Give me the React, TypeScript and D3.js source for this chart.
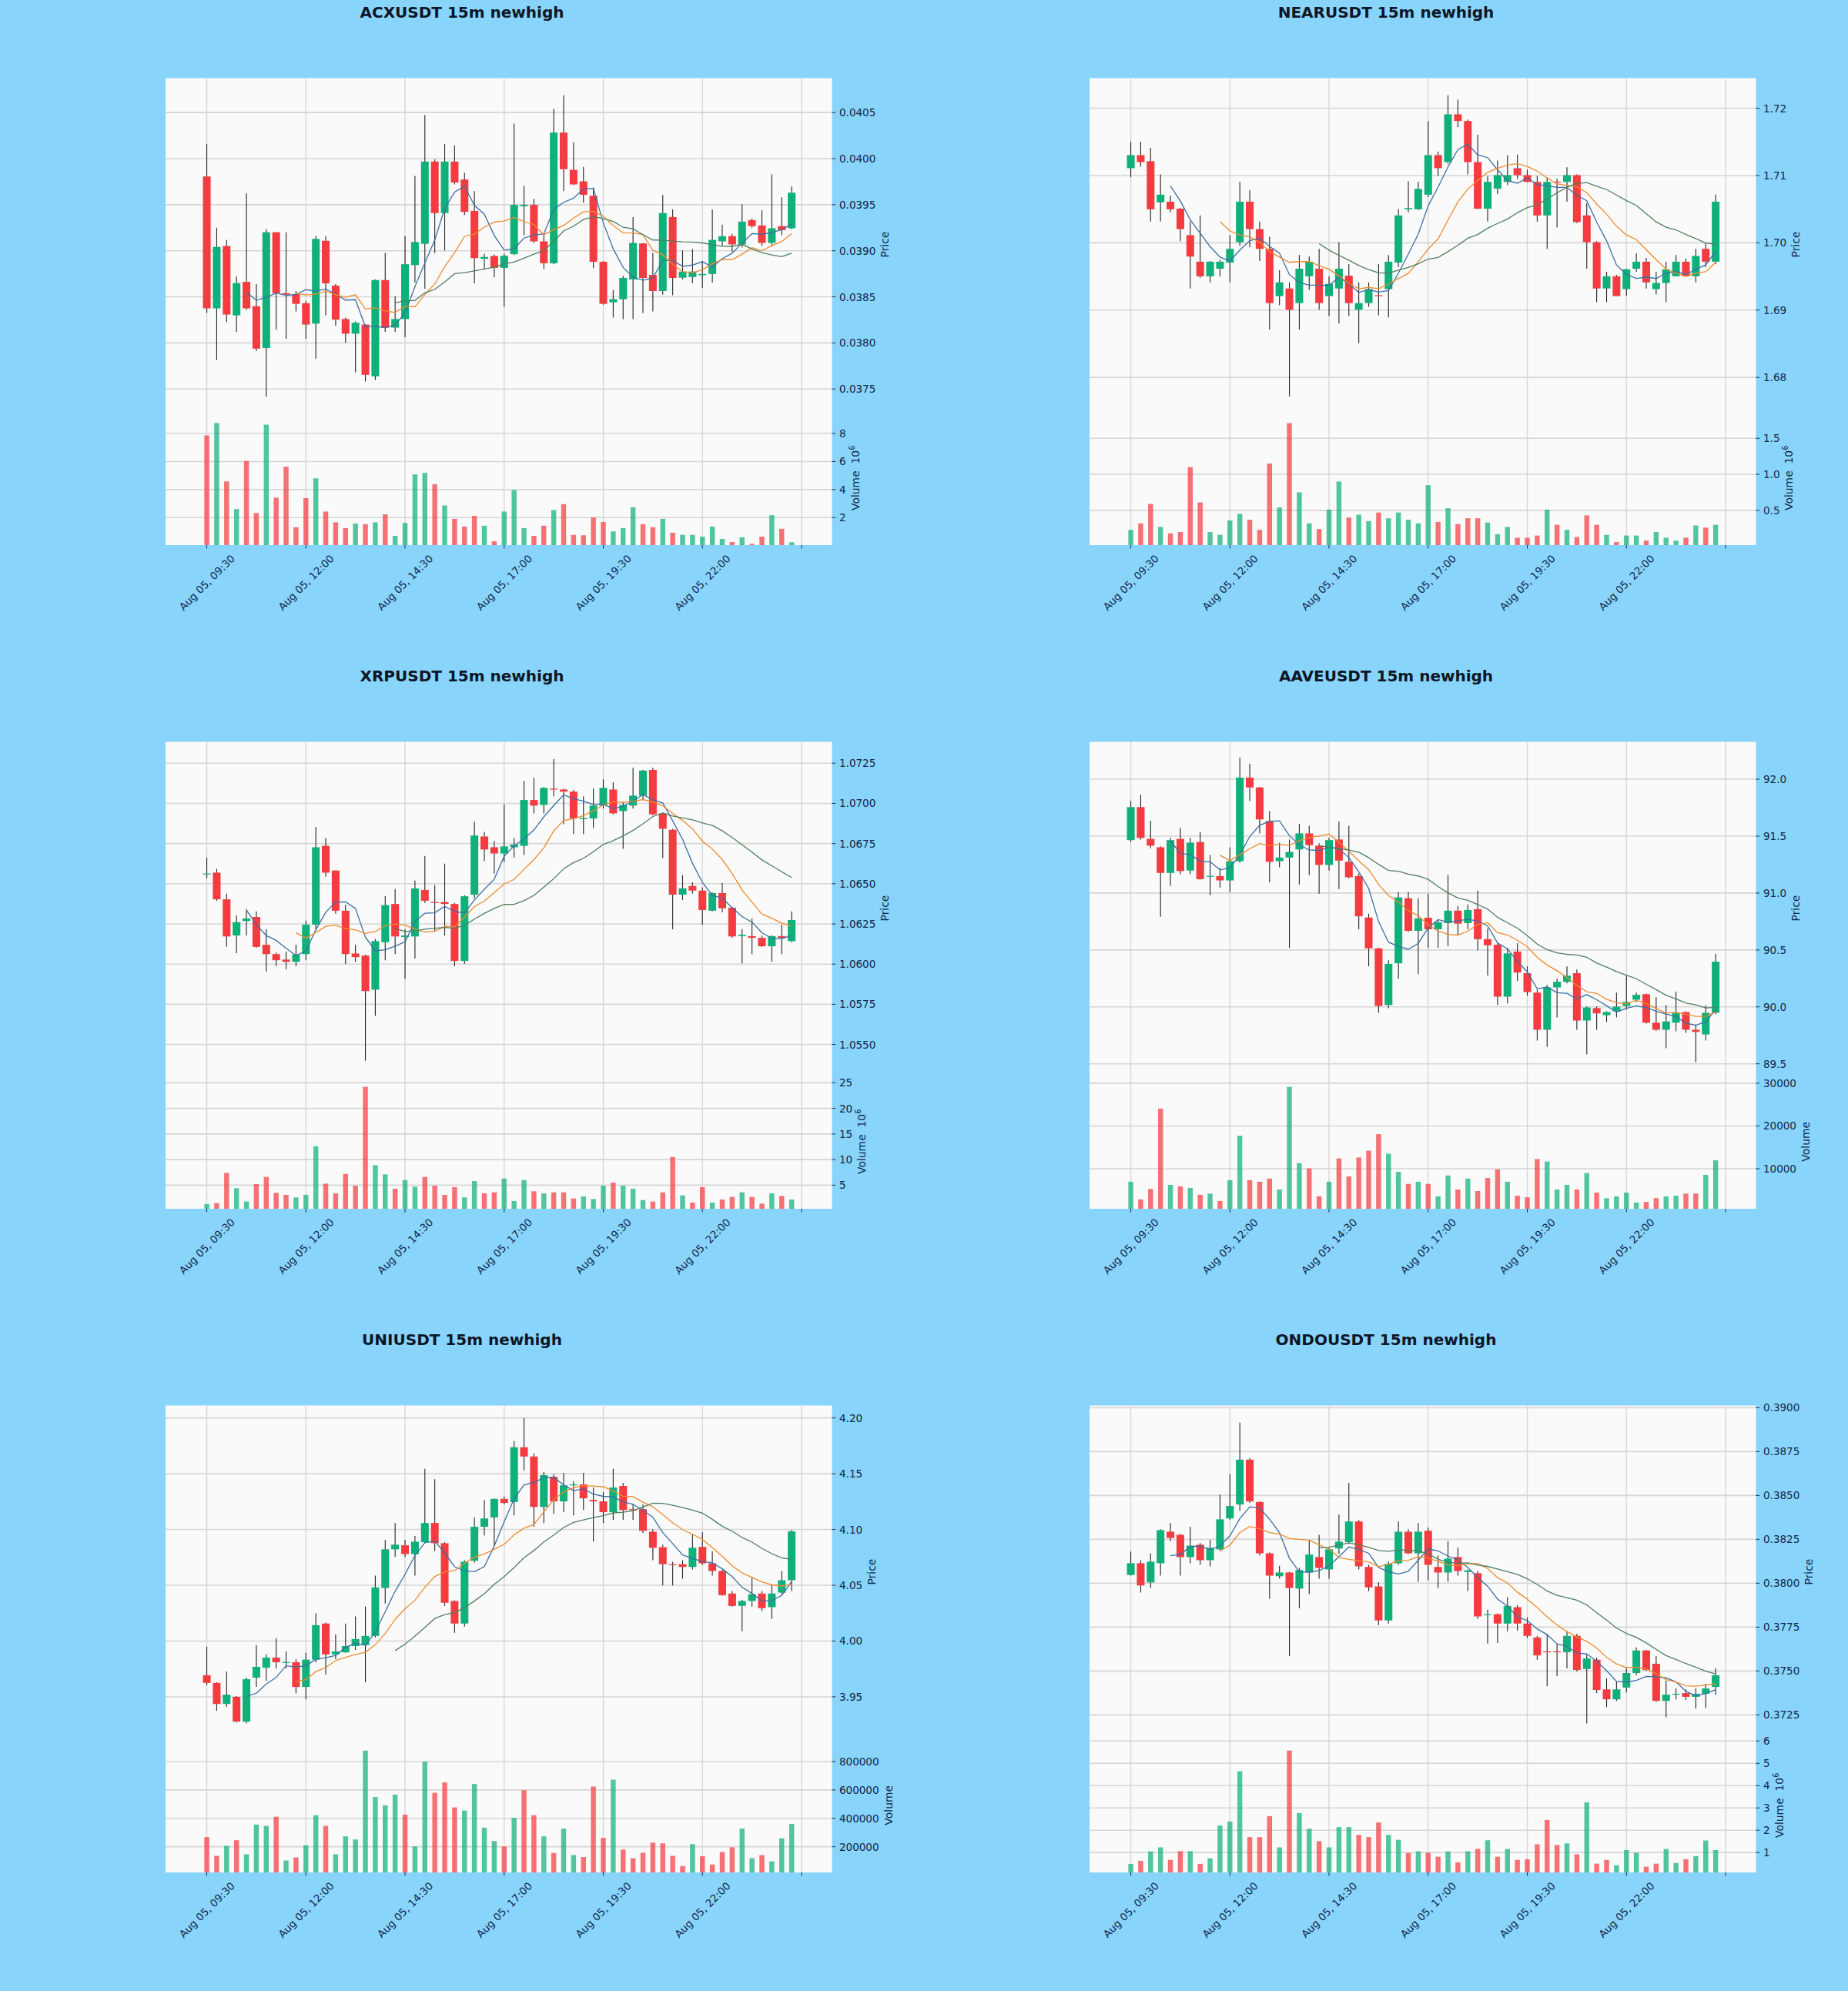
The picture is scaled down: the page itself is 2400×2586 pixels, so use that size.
import React from 'react';
import * as d3 from 'd3';

// ---------- shared axis data ----------
const X_TICK_INDEX = [0, 10, 20, 30, 40, 50, 60];
const X_TICK_LABELS = ['Aug 05, 09:30', 'Aug 05, 12:00', 'Aug 05, 14:30', 'Aug 05, 17:00', 'Aug 05, 19:30', 'Aug 05, 22:00', ''];
const MA_PERIODS = [5, 10, 20];

// ---------- ACXUSDT ----------
const ACX_OPEN = [0.039806,0.038375,0.039052,0.038299,0.038662,0.038398,0.037945,0.039201,0.038540,0.038530,
0.038431,0.038209,0.039108,0.038622,0.038259,0.038100,0.038199,0.037638,0.038682,0.038166,
0.038259,0.038844,0.039075,0.039968,0.039409,0.039968,0.039773,0.039432,0.038913,0.038943,
0.038814,0.038963,0.039482,0.039498,0.039102,0.038864,0.040282,0.039878,0.039753,0.039597,
0.038880,0.038441,0.038474,0.038689,0.039079,0.038738,0.038563,0.039366,0.038708,0.038715,
0.038735,0.038748,0.039102,0.039158,0.039069,0.039333,0.039274,0.039085,0.039267,0.039244];
const ACX_HIGH = [0.040159,0.039250,0.039118,0.038722,0.039621,0.038639,0.039234,0.039201,0.039201,0.038563,
0.038457,0.039161,0.039158,0.038639,0.038275,0.038232,0.038199,0.038689,0.038976,0.038507,
0.039158,0.039812,0.040473,0.039991,0.040159,0.040143,0.039845,0.039647,0.038969,0.038960,
0.038969,0.040381,0.039706,0.039564,0.039168,0.040539,0.040688,0.040176,0.039911,0.039687,
0.038887,0.038573,0.038728,0.039366,0.039085,0.038976,0.039607,0.039449,0.039003,0.039019,
0.038889,0.039449,0.039283,0.039184,0.039505,0.039350,0.039439,0.039829,0.039581,0.039697];
const ACX_LOW = [0.038325,0.037813,0.038226,0.038120,0.038358,0.037912,0.037416,0.038143,0.038044,0.038342,
0.038044,0.037829,0.038299,0.038186,0.038001,0.037681,0.037581,0.037598,0.038120,0.038120,
0.038061,0.038655,0.038589,0.038973,0.039003,0.039720,0.039389,0.038646,0.038794,0.038712,
0.038391,0.038953,0.039168,0.039085,0.038804,0.038854,0.039647,0.039713,0.039521,0.038811,
0.038414,0.038275,0.038259,0.038259,0.038325,0.038342,0.038523,0.038517,0.038689,0.038649,
0.038596,0.038655,0.039052,0.038986,0.039036,0.039250,0.039052,0.039052,0.039168,0.039234];
const ACX_CLOSE = [0.038375,0.039042,0.038308,0.038649,0.038375,0.037938,0.039201,0.038540,0.038523,0.038424,
0.038199,0.039128,0.038646,0.038252,0.038100,0.038219,0.037654,0.038682,0.038166,0.038259,
0.038854,0.039095,0.039968,0.039409,0.039968,0.039740,0.039422,0.038920,0.038933,0.038814,
0.038946,0.039498,0.039498,0.039102,0.038864,0.040282,0.039885,0.039720,0.039607,0.038880,
0.038424,0.038474,0.038705,0.039085,0.038705,0.038563,0.039409,0.038705,0.038774,0.038774,
0.038748,0.039118,0.039158,0.039069,0.039316,0.039267,0.039085,0.039244,0.039224,0.039630];
const ACX_VOLUME = [7.86,8.74,4.58,2.61,6.04,2.32,8.63,3.42,5.63,1.31,
3.39,4.80,2.43,1.66,1.25,1.58,1.53,1.66,2.23,0.70,
1.62,5.08,5.19,4.38,2.87,1.91,1.36,2.12,1.42,0.31,
2.43,3.96,1.25,0.70,1.42,2.54,2.96,0.77,0.74,2.01,
1.69,1.01,1.25,2.74,1.53,1.31,1.91,0.92,0.77,0.77,
0.64,1.36,0.48,0.26,0.59,0.13,0.64,2.17,1.20,0.24];
const ACX_PRICE_TICKS = [0.0375, 0.0380, 0.0385, 0.0390, 0.0395, 0.0400, 0.0405];
const ACX_VOL_TICKS = [2, 4, 6, 8];

// ---------- NEARUSDT ----------
const NEAR_OPEN = [1.71109,1.71303,1.71213,1.70602,1.70611,1.70507,1.70113,1.69719,1.69502,1.69615,
1.69706,1.70009,1.70611,1.70204,1.69910,1.69208,1.69321,1.69104,1.69502,1.69615,
1.69208,1.69321,1.69511,1.69005,1.69104,1.69222,1.69312,1.69706,1.70498,1.70498,
1.70715,1.71303,1.71199,1.71910,1.71810,1.71199,1.70507,1.70805,1.70905,1.71109,
1.71005,1.70905,1.70407,1.70905,1.70905,1.71005,1.70407,1.70009,1.69321,1.69502,
1.69312,1.69615,1.69719,1.69312,1.69403,1.69502,1.69719,1.69502,1.69910,1.69719];
const NEAR_HIGH = [1.71502,1.71502,1.71412,1.71018,1.70701,1.70520,1.70317,1.70407,1.69729,1.69751,
1.70113,1.70905,1.70778,1.70317,1.70090,1.69593,1.69412,1.69819,1.69796,1.69910,
1.69502,1.70009,1.69683,1.69412,1.69412,1.69683,1.69819,1.70498,1.70914,1.70905,
1.71810,1.71357,1.72195,1.72127,1.71833,1.71606,1.70995,1.71222,1.71303,1.71312,
1.71086,1.70995,1.70973,1.70950,1.71122,1.71018,1.70588,1.70023,1.69570,1.69525,
1.69615,1.69842,1.69774,1.69570,1.69719,1.69819,1.69765,1.69910,1.70000,1.70715];
const NEAR_LOW = [1.70973,1.71131,1.70317,1.70317,1.70452,1.70023,1.69321,1.69480,1.69412,1.69502,
1.69412,1.69955,1.69932,1.69729,1.68710,1.69072,1.67715,1.68710,1.69299,1.69005,
1.68914,1.68801,1.68914,1.68507,1.69050,1.68923,1.68891,1.69638,1.70452,1.70489,
1.70679,1.70995,1.71176,1.71719,1.71018,1.70498,1.70317,1.70724,1.70860,1.70950,
1.70896,1.70317,1.69910,1.70226,1.70611,1.70294,1.69615,1.69118,1.69118,1.69208,
1.69208,1.69570,1.69321,1.69231,1.69118,1.69502,1.69502,1.69412,1.69638,1.69683];
const NEAR_CLOSE = [1.71303,1.71199,1.70498,1.70715,1.70498,1.70204,1.69796,1.69502,1.69719,1.69719,
1.69910,1.70611,1.70204,1.69910,1.69104,1.69412,1.69005,1.69615,1.69719,1.69104,
1.69389,1.69615,1.69104,1.69104,1.69312,1.69208,1.69719,1.70407,1.70516,1.70801,
1.71303,1.71109,1.71910,1.71810,1.71199,1.70507,1.70905,1.71005,1.71005,1.71005,
1.70905,1.70407,1.70905,1.70896,1.71005,1.70308,1.70009,1.69321,1.69502,1.69208,
1.69606,1.69719,1.69412,1.69403,1.69606,1.69719,1.69502,1.69805,1.69719,1.70611];
const NEAR_VOLUME = [0.23,0.32,0.59,0.27,0.18,0.20,1.10,0.61,0.20,0.16,
0.36,0.45,0.37,0.23,1.15,0.54,1.71,0.75,0.32,0.24,
0.51,0.90,0.40,0.44,0.35,0.47,0.39,0.47,0.37,0.32,
0.85,0.34,0.53,0.31,0.39,0.39,0.33,0.17,0.27,0.12,
0.12,0.15,0.51,0.30,0.23,0.13,0.43,0.30,0.16,0.06,
0.15,0.15,0.08,0.20,0.12,0.08,0.12,0.29,0.26,0.30];
const NEAR_PRICE_TICKS = [1.68, 1.69, 1.70, 1.71, 1.72];
const NEAR_VOL_TICKS = [0.5, 1.0, 1.5];

// ---------- XRPUSDT ----------
const XRP_OPEN = [1.06561,1.06569,1.06403,1.06178,1.06268,1.06293,1.06120,1.06062,1.06028,1.06014,
1.06062,1.06245,1.06736,1.06582,1.06332,1.06066,1.06053,1.05841,1.06136,1.06374,
1.06168,1.06172,1.06461,1.06386,1.06386,1.06374,1.06020,1.06432,1.06794,1.06727,
1.06688,1.06727,1.06736,1.07021,1.06990,1.07092,1.07086,1.07073,1.06902,1.06906,
1.06986,1.07086,1.06952,1.06986,1.07048,1.07208,1.06938,1.06836,1.06432,1.06486,
1.06457,1.06332,1.06442,1.06351,1.06174,1.06174,1.06163,1.06111,1.06174,1.06143];
const XRP_HIGH = [1.06663,1.06592,1.06438,1.06303,1.06342,1.06328,1.06217,1.06072,1.06078,1.06120,
1.06270,1.06852,1.06784,1.06582,1.06370,1.06120,1.06059,1.06155,1.06422,1.06467,
1.06217,1.06519,1.06673,1.06492,1.06625,1.06380,1.06428,1.06886,1.06823,1.06765,
1.06994,1.06784,1.07140,1.07160,1.07102,1.07275,1.07092,1.07083,1.07044,1.07092,
1.07150,1.07131,1.07009,1.07221,1.07208,1.07221,1.06944,1.06842,1.06553,1.06509,
1.06476,1.06447,1.06505,1.06355,1.06217,1.06284,1.06178,1.06178,1.06245,1.06328];
const XRP_LOW = [1.06534,1.06394,1.06107,1.06068,1.06178,1.06101,1.05953,1.05986,1.05966,1.05986,
1.06024,1.06217,1.06544,1.06313,1.06001,1.06014,1.05399,1.05678,1.06024,1.06062,
1.05909,1.06034,1.06380,1.06207,1.06178,1.05986,1.06001,1.06409,1.06640,1.06563,
1.06636,1.06663,1.06678,1.06938,1.06938,1.07044,1.06871,1.06809,1.06809,1.06848,
1.06967,1.06932,1.06717,1.06967,1.07021,1.06925,1.06659,1.06217,1.06399,1.06438,
1.06245,1.06328,1.06322,1.06163,1.06005,1.06062,1.06107,1.06014,1.06062,1.06136];
const XRP_CLOSE = [1.06561,1.06403,1.06172,1.06261,1.06284,1.06107,1.06062,1.06024,1.06014,1.06059,
1.06245,1.06727,1.06569,1.06332,1.06062,1.06043,1.05832,1.06143,1.06367,1.06172,
1.06178,1.06471,1.06394,1.06380,1.06374,1.06020,1.06422,1.06800,1.06713,1.06688,
1.06732,1.06744,1.07021,1.06986,1.07096,1.07086,1.07073,1.06906,1.06909,1.06986,
1.07096,1.06938,1.06990,1.07048,1.07204,1.06932,1.06842,1.06432,1.06471,1.06457,
1.06336,1.06442,1.06347,1.06172,1.06182,1.06163,1.06111,1.06174,1.06163,1.06274];
const XRP_VOLUME = [1.3,1.5,7.4,4.4,1.8,5.2,6.6,3.5,3.1,2.6,
3.1,12.6,5.3,3.4,7.2,4.9,24.2,8.9,7.1,4.3,
6.0,4.7,6.6,4.9,3.1,4.6,2.6,5.8,3.4,3.6,
6.3,1.9,6.0,3.8,3.4,3.6,3.6,2.4,2.8,2.3,
4.9,5.5,4.9,4.3,2.1,1.8,3.6,10.5,3.0,1.6,
4.6,1.6,2.2,2.7,3.6,2.7,1.4,3.4,2.9,2.2];
const XRP_PRICE_TICKS = [1.0550, 1.0575, 1.0600, 1.0625, 1.0650, 1.0675, 1.0700, 1.0725];
const XRP_VOL_TICKS = [5, 10, 15, 20, 25];

// ---------- AAVEUSDT ----------
const AAVE_OPEN = [91.465,91.755,91.476,91.402,91.177,91.476,91.198,91.448,91.144,91.149,
91.111,91.280,92.014,91.927,91.633,91.280,91.312,91.383,91.524,91.416,
91.247,91.470,91.274,91.149,90.785,90.514,90.016,90.383,90.954,90.668,
90.783,90.682,90.736,90.845,90.736,90.859,90.595,90.546,90.090,90.486,
90.296,90.125,89.799,90.171,90.220,90.296,89.880,89.989,89.927,89.962,
90.008,90.063,90.111,89.861,89.799,89.861,89.954,89.799,89.758,89.948];
const AAVE_HIGH = [91.810,91.864,91.633,91.410,91.484,91.573,91.484,91.538,91.334,91.220,
91.402,92.190,92.136,91.932,91.720,91.443,91.470,91.606,91.592,91.438,
91.484,91.628,91.592,91.171,90.818,90.519,90.410,91.008,91.008,90.954,
90.995,90.764,91.158,90.886,90.899,91.022,90.688,90.560,90.519,90.560,
90.356,90.152,90.193,90.247,90.356,90.329,90.003,90.003,89.962,90.125,
90.274,90.125,90.117,90.084,90.016,90.133,89.962,89.840,90.016,90.465];
const AAVE_LOW = [91.448,91.470,91.394,90.791,91.063,91.166,91.166,91.117,90.981,91.049,
91.008,91.266,91.810,91.524,91.095,91.226,90.519,91.076,91.158,90.995,
91.198,91.035,91.130,90.682,90.356,89.948,89.989,90.247,90.660,90.288,
90.519,90.519,90.533,90.628,90.682,90.497,90.274,90.016,90.030,90.226,
90.098,89.704,89.649,89.908,90.207,89.799,89.582,89.799,89.867,89.908,
89.976,90.043,89.853,89.791,89.636,89.785,89.772,89.514,89.704,89.935];
const AAVE_CLOSE = [91.755,91.484,91.416,91.177,91.465,91.193,91.443,91.122,91.149,91.111,
91.280,92.014,91.927,91.647,91.274,91.312,91.361,91.524,91.421,91.247,
91.465,91.285,91.139,90.796,90.514,90.008,90.378,90.962,90.668,90.777,
90.682,90.742,90.845,90.731,90.851,90.595,90.541,90.090,90.470,90.302,
90.130,89.799,90.171,90.220,90.274,89.880,89.995,89.943,89.954,90.003,
90.043,90.106,89.861,89.799,89.872,89.948,89.799,89.780,89.948,90.397];
const AAVE_VOLUME = [6945,2800,5273,24036,6218,5855,5491,3891,4182,2436,
7309,17709,7309,6945,7673,5127,29127,11309,10073,3527,
6945,12400,8182,12618,14218,18073,13491,9273,6436,6945,
6436,3527,8400,5127,7673,4764,7818,9855,6945,3673,
3309,12255,11673,5127,6218,5127,8982,4400,3091,3527,
4400,2073,2218,3091,3527,3673,4182,4182,8545,11964];
const AAVE_PRICE_TICKS = [89.5, 90.0, 90.5, 91.0, 91.5, 92.0];
const AAVE_VOL_TICKS = [10000, 20000, 30000];

// ---------- UNIUSDT ----------
const UNI_OPEN = [3.9694,3.9625,3.9436,3.9500,3.9278,3.9672,3.9761,3.9852,3.9805,3.9810,
3.9589,3.9833,4.0157,3.9880,3.9899,3.9955,3.9963,4.0046,4.0476,4.0822,
4.0858,4.0780,4.0886,4.1058,4.0877,4.0359,4.0157,4.0720,4.1024,4.1108,
4.1274,4.1246,4.1737,4.1654,4.1202,4.1473,4.1252,4.1396,4.1404,4.1265,
4.1252,4.1155,4.1390,4.1182,4.1182,4.0980,4.0841,4.0689,4.0689,4.0664,
4.0844,4.0697,4.0628,4.0426,4.0315,4.0359,4.0426,4.0304,4.0434,4.0545];
const UNI_HIGH = [3.9949,3.9630,3.9727,3.9506,3.9672,3.9963,3.9880,4.0027,3.9907,3.9838,
3.9894,4.0248,4.0165,4.0060,4.0157,4.0221,4.0309,4.0586,4.0905,4.1058,
4.0905,4.0941,4.1543,4.1451,4.0886,4.0365,4.0725,4.1108,4.1265,4.1279,
4.1293,4.1792,4.2000,4.1681,4.1515,4.1496,4.1507,4.1432,4.1507,4.1376,
4.1335,4.1543,4.1418,4.1224,4.1224,4.1002,4.0864,4.0711,4.0725,4.0961,
4.0974,4.0803,4.0642,4.0448,4.0370,4.0573,4.0448,4.0503,4.0628,4.0997];
const UNI_LOW = [3.9603,3.9375,3.9409,3.9270,3.9262,3.9589,3.9644,3.9755,3.9755,3.9533,
3.9478,3.9810,3.9700,3.9838,3.9894,3.9921,3.9630,4.0032,4.0337,4.0753,
4.0753,4.0586,4.0877,4.0808,4.0315,4.0074,4.0129,4.0703,4.0947,4.0850,
4.1224,4.1127,4.1529,4.1024,4.1058,4.1141,4.1155,4.1127,4.1174,4.0891,
4.1058,4.1085,4.1085,4.1085,4.0969,4.0725,4.0498,4.0498,4.0559,4.0642,
4.0683,4.0586,4.0406,4.0309,4.0088,4.0309,4.0268,4.0198,4.0420,4.0448];
const UNI_CLOSE = [3.9625,3.9436,3.9519,3.9278,3.9658,3.9769,3.9852,3.9810,3.9810,3.9589,
3.9833,4.0143,3.9880,3.9907,3.9955,4.0018,4.0046,4.0481,4.0822,4.0864,
4.0780,4.0891,4.1058,4.0877,4.0343,4.0157,4.0711,4.1024,4.1099,4.1274,
4.1238,4.1737,4.1654,4.1202,4.1487,4.1252,4.1396,4.1404,4.1279,4.1252,
4.1155,4.1376,4.1174,4.1174,4.0988,4.0836,4.0689,4.0681,4.0664,4.0836,
4.0697,4.0628,4.0412,4.0315,4.0359,4.0420,4.0295,4.0426,4.0545,4.0983];
const UNI_VOLUME = [268000,136000,207000,246000,147000,356000,347000,411000,103000,125000,
211000,422000,347000,147000,273000,251000,877000,550000,492000,567000,
426000,202000,800000,580000,653000,477000,455000,642000,334000,240000,
202000,404000,598000,422000,273000,156000,328000,141000,127000,624000,
262000,673000,180000,119000,158000,229000,224000,136000,64000,218000,
134000,75000,163000,196000,328000,119000,141000,97000,259000,360000];
const UNI_PRICE_TICKS = [3.95, 4.00, 4.05, 4.10, 4.15, 4.20];
const UNI_VOL_TICKS = [200000, 400000, 600000, 800000];

// ---------- ONDOUSDT ----------
const ONDO_OPEN = [0.380469,0.381138,0.380046,0.381138,0.382935,0.382759,0.381490,0.382195,0.381314,0.381931,
0.383693,0.384486,0.387040,0.384626,0.381702,0.380398,0.380610,0.379693,0.380610,0.381490,
0.380786,0.381984,0.382336,0.383517,0.380927,0.379817,0.377879,0.381138,0.382935,0.381702,
0.382988,0.380927,0.380610,0.381490,0.380645,0.380574,0.378178,0.378231,0.377703,0.378636,
0.377703,0.376910,0.376117,0.376117,0.376064,0.376998,0.375113,0.375641,0.373950,0.373386,
0.374056,0.374884,0.376170,0.375412,0.373298,0.373650,0.373739,0.373527,0.373703,0.374091];
const ONDO_HIGH = [0.381808,0.381314,0.381702,0.383076,0.383428,0.382812,0.383217,0.382283,0.382459,0.385049,
0.386212,0.389154,0.387128,0.384662,0.381755,0.380997,0.380645,0.380874,0.382459,0.382759,
0.382019,0.383904,0.385719,0.383605,0.381050,0.380046,0.381226,0.383517,0.383076,0.383428,
0.383164,0.381579,0.382407,0.382019,0.380786,0.380698,0.378495,0.378284,0.379200,0.378760,
0.378055,0.376998,0.377086,0.376522,0.377262,0.377121,0.375941,0.375765,0.374584,0.374408,
0.375148,0.376346,0.376205,0.375853,0.374443,0.374003,0.373950,0.374003,0.374267,0.375148];
const ONDO_LOW = [0.380433,0.379464,0.379729,0.380433,0.382407,0.380433,0.381138,0.381050,0.380962,0.381843,
0.383605,0.384133,0.384574,0.381579,0.379112,0.380257,0.375853,0.378583,0.379376,0.380257,
0.380257,0.381667,0.382230,0.380786,0.379552,0.377614,0.377703,0.381050,0.381667,0.380081,
0.380169,0.379729,0.380081,0.380433,0.379552,0.377967,0.376557,0.376593,0.377262,0.377297,
0.376875,0.375641,0.374126,0.374708,0.375148,0.374972,0.372012,0.373739,0.372946,0.373298,
0.373774,0.374760,0.375007,0.373245,0.372364,0.373386,0.373351,0.372858,0.372893,0.373650];
const ONDO_CLOSE = [0.381138,0.379870,0.381226,0.383023,0.382583,0.381490,0.382142,0.381314,0.382019,0.383640,
0.384397,0.387040,0.384662,0.381702,0.380433,0.380610,0.379729,0.380751,0.381631,0.380874,
0.381931,0.382371,0.383517,0.380962,0.379764,0.377879,0.381103,0.382935,0.381702,0.382935,
0.381050,0.380610,0.381402,0.380698,0.380733,0.378108,0.378231,0.377703,0.378707,0.377703,
0.376998,0.375888,0.376064,0.376064,0.376998,0.375060,0.375712,0.373915,0.373386,0.373950,
0.374884,0.376170,0.375060,0.373298,0.373650,0.373703,0.373527,0.373703,0.374003,0.374760];
const ONDO_VOLUME = [0.49,0.63,1.05,1.23,0.67,1.06,1.06,0.49,0.74,2.21,
2.39,4.64,1.69,1.69,2.63,1.23,5.57,2.77,2.07,1.51,
1.23,2.14,2.14,1.79,1.69,2.35,1.79,1.57,0.98,1.05,
0.99,0.81,1.05,0.56,1.05,1.16,1.55,0.81,1.16,0.67,
0.70,1.37,2.46,1.34,1.41,0.92,3.25,0.50,0.67,0.43,
1.11,0.99,0.36,0.50,1.16,0.53,0.70,0.84,1.54,1.11];
const ONDO_PRICE_TICKS = [0.3725, 0.3750, 0.3775, 0.3800, 0.3825, 0.3850, 0.3875, 0.3900];
const ONDO_VOL_TICKS = [1, 2, 3, 4, 5, 6];

// ---------- panel definitions ----------
type PanelCfg = {
  title: string; open: number[]; high: number[]; low: number[]; close: number[]; volume: number[];
  priceDomain: [number, number]; priceTicks: number[]; priceDec: number;
  volTicks: number[]; volDec: number; volExp: number | null;
};

const PANELS: PanelCfg[] = [
  { title: 'ACXUSDT 15m newhigh', open: ACX_OPEN, high: ACX_HIGH, low: ACX_LOW, close: ACX_CLOSE, volume: ACX_VOLUME,
    priceDomain: [0.037263, 0.040873], priceTicks: ACX_PRICE_TICKS, priceDec: 4, volTicks: ACX_VOL_TICKS, volDec: 0, volExp: 6 },
  { title: 'NEARUSDT 15m newhigh', open: NEAR_OPEN, high: NEAR_HIGH, low: NEAR_LOW, close: NEAR_CLOSE, volume: NEAR_VOLUME,
    priceDomain: [1.67503, 1.72447], priceTicks: NEAR_PRICE_TICKS, priceDec: 2, volTicks: NEAR_VOL_TICKS, volDec: 1, volExp: 6 },
  { title: 'XRPUSDT 15m newhigh', open: XRP_OPEN, high: XRP_HIGH, low: XRP_LOW, close: XRP_CLOSE, volume: XRP_VOLUME,
    priceDomain: [1.05313, 1.07383], priceTicks: XRP_PRICE_TICKS, priceDec: 4, volTicks: XRP_VOL_TICKS, volDec: 0, volExp: 6 },
  { title: 'AAVEUSDT 15m newhigh', open: AAVE_OPEN, high: AAVE_HIGH, low: AAVE_LOW, close: AAVE_CLOSE, volume: AAVE_VOLUME,
    priceDomain: [89.406, 92.3285], priceTicks: AAVE_PRICE_TICKS, priceDec: 1, volTicks: AAVE_VOL_TICKS, volDec: 0, volExp: null },
  { title: 'UNIUSDT 15m newhigh', open: UNI_OPEN, high: UNI_HIGH, low: UNI_LOW, close: UNI_CLOSE, volume: UNI_VOLUME,
    priceDomain: [3.91297, 4.21114], priceTicks: UNI_PRICE_TICKS, priceDec: 2, volTicks: UNI_VOL_TICKS, volDec: 0, volExp: null },
  { title: 'ONDOUSDT 15m newhigh', open: ONDO_OPEN, high: ONDO_HIGH, low: ONDO_LOW, close: ONDO_CLOSE, volume: ONDO_VOLUME,
    priceDomain: [0.371173, 0.390127], priceTicks: ONDO_PRICE_TICKS, priceDec: 4, volTicks: ONDO_VOL_TICKS, volDec: 0, volExp: 6 },
];

// ---------- layout & style ----------
const W = 2400, H = 2586, CELL_W = 1200, CELL_H = 862;
const AX_L = 215, AX_R = 1080.5, AX_TOP = 101.5, AX_SPLIT = 533.6, AX_BOT = 708;
const X_DOMAIN: [number, number] = [-4.16, 63.07];
const BG = '#89d4fb', FACE = '#fafafa', GRID = '#d6d6d6';
const UP = '#0fb07a', DOWN = '#f33b40', WICK = '#222222';
const TXT = '#10284c', TITLE = '#0d1626';
const MA_COLORS = ['#3b6ea5', '#f08a2c', '#4f7f5e'];
const FONT = 'DejaVu Sans, Verdana, sans-serif';
const FS = 13.5;

function textW(s: string, fs: number) {
  let w = 0;
  for (const ch of s) {
    if (ch === '.' || ch === ',' || ch === ' ') w += 0.318;
    else if (ch === ':') w += 0.337;
    else if (/[0-9]/.test(ch)) w += 0.636;
    else w += 0.62;
  }
  return w * fs;
}

function movingAvg(vals: number[], n: number): (number | null)[] {
  return vals.map((_, i) => (i < n - 1 ? null : d3.mean(vals.slice(i - n + 1, i + 1)) as number));
}

function Panel({ cfg, ox, oy }: { cfg: PanelCfg; ox: number; oy: number }) {
  const n = cfg.close.length;
  const xs = d3.scaleLinear().domain(X_DOMAIN).range([AX_L, AX_R]);
  const ys = d3.scaleLinear().domain(cfg.priceDomain).range([AX_SPLIT, AX_TOP]);
  const vmin = d3.min(cfg.volume) as number, vmax = d3.max(cfg.volume) as number;
  const vs = d3.scaleLinear().domain([0.3 * vmin, 1.1 * vmax]).range([AX_BOT, AX_SPLIT]);
  const bodyHalf = 0.39, volHalf = 0.25;
  const pf = d3.format(`.${cfg.priceDec}f`);
  const vf = d3.format(`.${cfg.volDec}f`);
  const priceLabels = cfg.priceTicks.map(pf);
  const volLabels = cfg.volTicks.map(vf);
  const priceLabelX = 1102 + d3.max(priceLabels.map((s) => textW(s, FS)))!;
  const volLabelX = 1102 + d3.max(volLabels.map((s) => textW(s, FS)))!;
  const idx = d3.range(n);

  const mas = MA_PERIODS.map((p) => movingAvg(cfg.close, p));
  const line = d3.line<number | null>()
    .defined((d) => d !== null)
    .x((_, i) => xs(i))
    .y((d) => ys(d as number))
    .curve(d3.curveLinear);

  return (
    <g transform={`translate(${ox},${oy})`} fontFamily={FONT}>
      <text x={600} y={16} textAnchor="middle" dominantBaseline="central" fontWeight="bold" fontSize={20} fill={TITLE}>{cfg.title}</text>
      <rect x={AX_L} y={AX_TOP} width={AX_R - AX_L} height={AX_BOT - AX_TOP} fill={FACE} />
      {/* grid */}
      {X_TICK_INDEX.map((t) => (
        <line key={'vg' + t} x1={xs(t)} x2={xs(t)} y1={AX_TOP} y2={AX_BOT} stroke={GRID} strokeWidth={1.4} />
      ))}
      {cfg.priceTicks.map((t) => (
        <line key={'pg' + t} x1={AX_L} x2={AX_R} y1={ys(t)} y2={ys(t)} stroke={GRID} strokeWidth={1.6} />
      ))}
      {cfg.volTicks.map((t) => (
        <line key={'vgl' + t} x1={AX_L} x2={AX_R} y1={vs(t)} y2={vs(t)} stroke={GRID} strokeWidth={1.6} />
      ))}
      {/* volume */}
      {idx.map((i) => {
        const up = cfg.close[i] >= cfg.open[i];
        const y = vs(cfg.volume[i]);
        return (
          <rect key={'v' + i} x={xs(i - volHalf)} width={xs(i + volHalf) - xs(i - volHalf)} y={y} height={AX_BOT - y}
            fill={up ? UP : DOWN} fillOpacity={0.72} />
        );
      })}
      {/* candles */}
      {idx.map((i) => {
        const o = cfg.open[i], c = cfg.close[i];
        const up = c >= o;
        const yTop = ys(Math.max(o, c)), yBot = ys(Math.min(o, c));
        const h = Math.max(yBot - yTop, 1.2);
        return (
          <g key={'c' + i}>
            <line x1={xs(i)} x2={xs(i)} y1={ys(cfg.high[i])} y2={ys(cfg.low[i])} stroke={WICK} strokeWidth={1.1} />
            <rect x={xs(i - bodyHalf)} width={xs(i + bodyHalf) - xs(i - bodyHalf)} y={yTop - (h - (yBot - yTop)) / 2} height={h}
              fill={up ? UP : DOWN} />
          </g>
        );
      })}
      {/* moving averages */}
      {mas.map((m, k) => (
        <path key={'ma' + k} d={line(m) || ''} fill="none" stroke={MA_COLORS[k]} strokeWidth={1.3} />
      ))}
      {/* y ticks price */}
      {cfg.priceTicks.map((t, k) => (
        <g key={'pt' + t}>
          <line x1={AX_R} x2={AX_R + 4.5} y1={ys(t)} y2={ys(t)} stroke={TXT} strokeWidth={1} />
          <text x={AX_R + 9.5} y={ys(t)} dominantBaseline="central" fontSize={FS} fill={TXT}>{priceLabels[k]}</text>
        </g>
      ))}
      {cfg.volTicks.map((t, k) => (
        <g key={'vt' + t}>
          <line x1={AX_R} x2={AX_R + 4.5} y1={vs(t)} y2={vs(t)} stroke={TXT} strokeWidth={1} />
          <text x={AX_R + 9.5} y={vs(t)} dominantBaseline="central" fontSize={FS} fill={TXT}>{volLabels[k]}</text>
        </g>
      ))}
      <text transform={`translate(${priceLabelX},${(AX_TOP + AX_SPLIT) / 2}) rotate(-90)`} textAnchor="middle" dominantBaseline="central" fontSize={13.9} fill={TXT}>Price</text>
      <text transform={`translate(${volLabelX},${(AX_SPLIT + AX_BOT) / 2}) rotate(-90)`} textAnchor="middle" dominantBaseline="central" fontSize={13.9} fill={TXT}>
        {cfg.volExp === null ? 'Volume' : (
          <>
            <tspan>{'Volume\u00a0\u00a010'}</tspan>
            <tspan dy={-5} fontSize={9.7}>{String(cfg.volExp)}</tspan>
          </>
        )}
      </text>
      {/* x ticks */}
      {X_TICK_INDEX.map((t, k) => {
        const lab = X_TICK_LABELS[k];
        const L = textW(lab, FS);
        const cy = AX_BOT + 10 + (L + 15) * 0.3536;
        return (
          <g key={'xt' + t}>
            <line x1={xs(t)} x2={xs(t)} y1={AX_BOT} y2={AX_BOT + 4.5} stroke={TXT} strokeWidth={1} />
            {lab && (
              <text transform={`translate(${xs(t)},${cy}) rotate(-45)`} textAnchor="middle" dominantBaseline="central" fontSize={FS} fill={TXT}>{lab}</text>
            )}
          </g>
        );
      })}
    </g>
  );
}

export default function App() {
  return (
    <svg width={W} height={H} viewBox={`0 0 ${W} ${H}`} style={{ position: 'absolute', left: 0, top: 0, display: 'block' }}>
      <rect x={0} y={0} width={W} height={H} fill={BG} />
      {PANELS.map((p, i) => (
        <Panel key={p.title} cfg={p} ox={(i % 2) * CELL_W} oy={Math.floor(i / 2) * CELL_H} />
      ))}
    </svg>
  );
}
